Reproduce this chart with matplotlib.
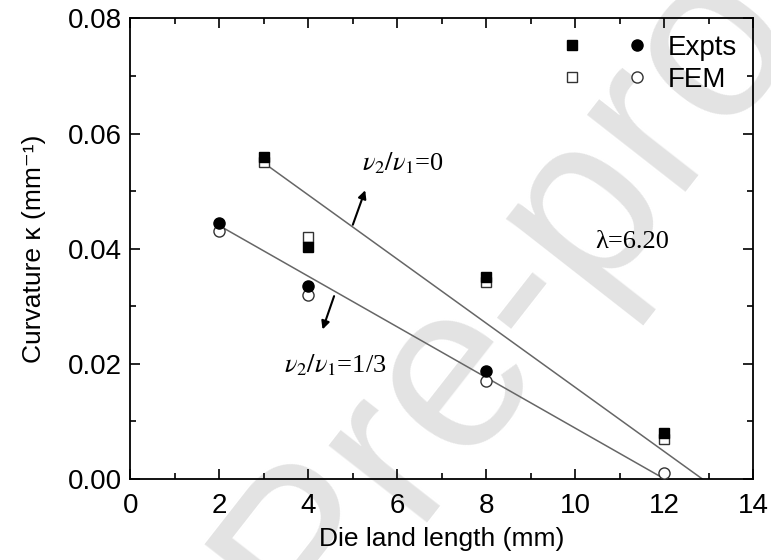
import matplotlib.pyplot as plt
from matplotlib.legend_handler import HandlerTuple
from matplotlib.ticker import MultipleLocator

plt.rcParams['font.family'] = ['Liberation Sans', 'DejaVu Sans']
plt.rcParams['mathtext.fontset'] = 'stix'

# nu2/nu1 = 0 (squares)
sq_x = [3, 4, 8, 12]
sq_expt = [0.0560, 0.0403, 0.0350, 0.0080]
sq_fem = [0.0550, 0.0420, 0.0342, 0.0070]
# nu2/nu1 = 1/3 (circles)
ci_x_expt = [2, 4, 8]
ci_expt = [0.0445, 0.0335, 0.0188]
ci_x_fem = [2, 4, 8, 12]
ci_fem = [0.0430, 0.0320, 0.0170, 0.0010]
# fitted lines
fit0_x = [3, 12.85]
fit0_y = [0.0549, 0.0]
fit13_x = [2, 12.0]
fit13_y = [0.0440, 0.0]

fig = plt.figure(figsize=(7.71, 5.6), dpi=100)
ax = fig.add_axes([0.169, 0.145, 0.808, 0.822])
ax.patch.set_alpha(0)

# watermark
fig.text(0.70, 0.50, 'l Pre-proof', fontsize=170, color='#e3e3e3', rotation=52,
         ha='center', va='center', zorder=-10)

ax.plot(fit0_x, fit0_y, color='#666666', lw=1.1, zorder=2)
ax.plot(fit13_x, fit13_y, color='#666666', lw=1.1, zorder=2)

s1, = ax.plot(sq_x, sq_fem, 's', mfc='white', mec='#333333', ms=7, mew=1, ls='none', zorder=3)
s2, = ax.plot(sq_x, sq_expt, 's', color='black', ms=7, ls='none', zorder=3)
c1, = ax.plot(ci_x_fem, ci_fem, 'o', mfc='white', mec='#333333', ms=8, mew=1, ls='none', zorder=3)
c2, = ax.plot(ci_x_expt, ci_expt, 'o', color='black', ms=8, ls='none', zorder=3)

ax.annotate('', xy=(5.3, 0.0506), xytext=(4.98, 0.0437),
            arrowprops=dict(arrowstyle='-|>', color='black', lw=1.5, mutation_scale=12))
ax.annotate('', xy=(4.3, 0.0255), xytext=(4.6, 0.0322),
            arrowprops=dict(arrowstyle='-|>', color='black', lw=1.5, mutation_scale=12))

tfont = dict(family='Liberation Serif', fontsize=19)
ax.text(5.2, 0.0548, r'$\nu_2/\nu_1$=0', ha='left', va='center', **tfont)
ax.text(3.45, 0.0197, r'$\nu_2/\nu_1$=1/3', ha='left', va='center', **tfont)
ax.text(10.45, 0.0412, 'λ=6.20', ha='left', va='center', **tfont)

leg = ax.legend([(s2, c2), (s1, c1)], ['Expts', 'FEM'], loc='upper right',
                handler_map={tuple: HandlerTuple(ndivide=None, pad=1.4)},
                handlelength=3.3, frameon=False, fontsize=20,
                borderaxespad=0.2, labelspacing=0.2, handletextpad=0.6)

ax.set_xlim(0, 14)
ax.set_ylim(0, 0.08)
ax.xaxis.set_major_locator(MultipleLocator(2))
ax.xaxis.set_minor_locator(MultipleLocator(1))
ax.yaxis.set_major_locator(MultipleLocator(0.02))
ax.yaxis.set_minor_locator(MultipleLocator(0.01))
ax.tick_params(which='both', direction='in', top=True, right=True, width=1.2)
ax.tick_params(which='major', length=7, labelsize=20, pad=6)
ax.tick_params(axis='x', which='major', pad=10)
ax.tick_params(which='minor', length=4)
ax.yaxis.set_major_formatter(plt.FormatStrFormatter('%.2f'))
for sp in ax.spines.values():
    sp.set_linewidth(1.3)

ax.set_xlabel('Die land length (mm)', fontsize=19, labelpad=6)
ax.set_ylabel('Curvature κ (mm⁻¹)', fontsize=19, labelpad=16)

fig.savefig('out.png', dpi=100)
